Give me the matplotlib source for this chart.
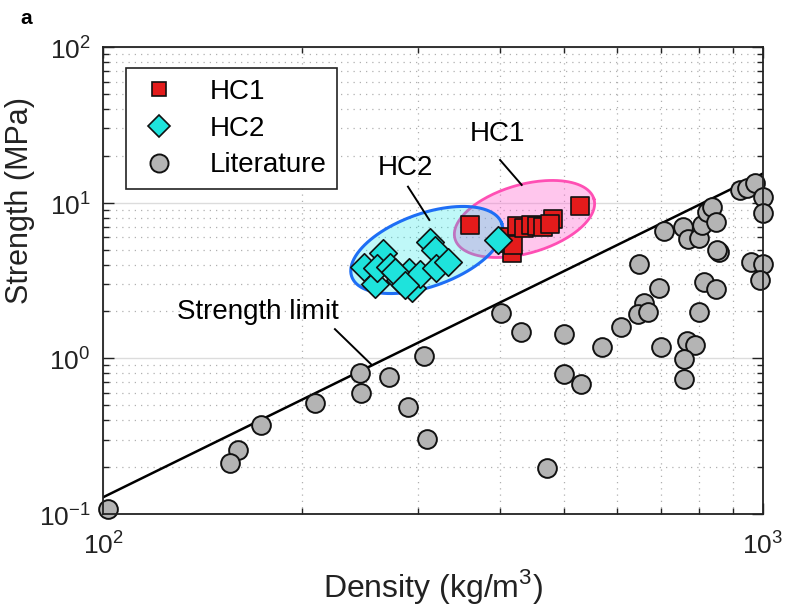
import numpy as np
import matplotlib
matplotlib.use("Agg")
import matplotlib.pyplot as plt
from matplotlib.lines import Line2D
from matplotlib.ticker import NullFormatter

plt.rcParams['font.family'] = ['Liberation Sans', 'DejaVu Sans']
plt.rcParams['mathtext.fontset'] = 'custom'
plt.rcParams['mathtext.rm'] = 'Liberation Sans'

# ---------------- data ----------------
hc1_density = [359.7, 406.6, 411.5, 416.1, 418.1, 424.5, 434.5, 444.5, 454.8, 464.2, 480.2, 475.6, 528.1]
hc1_strength = [7.19, 5.51, 6.02, 4.75, 5.35, 7.03, 6.88, 7.19, 7.08, 6.98, 7.80, 7.30, 9.52]

hc2_density = [248.6, 258.4, 265.7, 260.2, 272.3, 281.8, 290.8, 293.4, 302.2, 312.4, 318.4, 319.6, 333.2, 396.1, 277.0, 286.9]
hc2_strength = [3.84, 3.01, 4.73, 3.81, 3.88, 3.19, 3.56, 2.82, 3.48, 5.59, 4.97, 3.79, 4.13, 5.72, 3.59, 2.96]

lit_density = [101.9, 160.0, 155.9, 173.7, 209.8, 245.2, 245.8, 271.3, 306.8, 290.1,
               309.4, 400.6, 429.9, 499.4, 569.6, 609.3, 499.4, 529.4, 470.1, 649.6,
               696.4, 660.2, 647.3, 670.3, 699.8, 767.9, 788.9, 759.9, 759.1, 799.0,
               814.0, 848.8, 858.6, 852.0, 708.7, 757.2, 770.6, 799.9, 807.4, 823.3,
               836.1, 847.8, 922.9, 945.7, 972.5, 1000.0, 999.0, 957.9, 999.0, 989.6]
lit_strength = [0.108, 0.258, 0.214, 0.372, 0.519, 0.809, 0.602, 0.756, 1.04, 0.485,
                0.302, 1.966, 1.484, 1.435, 1.19, 1.59, 0.794, 0.688, 0.197, 4.02,
                2.83, 2.26, 1.93, 1.98, 1.19, 1.30, 1.22, 0.991, 0.738, 1.99,
                3.09, 2.79, 4.84, 4.97, 6.58, 7.01, 5.85, 5.96, 7.19, 8.76,
                9.43, 7.49, 12.07, 12.42, 13.32, 10.93, 8.55, 4.18, 4.02, 3.19]

limit_density = [100, 1000]
limit_strength = [0.128, 15.4]

# ---------------- figure ----------------
W, H = 786, 608
fig = plt.figure(figsize=(W / 100, H / 100), dpi=100)
ax = fig.add_axes([103 / W, 1 - 514 / H, 660 / W, 467 / H])
ax.set_xscale('log')
ax.set_yscale('log')
ax.set_xlim(100, 1000)
ax.set_ylim(0.1, 100)

# grid
ax.grid(True, which='major', color='#dcdcdc', linestyle='-', linewidth=1.0)
ax.grid(True, which='minor', color='#b0b0b0', linestyle=(0, (1, 4)), linewidth=0.9)
ax.set_axisbelow(True)


def ellipse(center, major, minor, n=200):
    t = np.linspace(0, 2 * np.pi, n)
    lx = center[0] + np.cos(t) * major[0] + np.sin(t) * minor[0]
    ly = center[1] + np.cos(t) * major[1] + np.sin(t) * minor[1]
    return 10 ** lx, 10 ** ly


ex, ey = ellipse((2.6386, 0.8953), (0.1053, 0.1278), (-0.0143, 0.212))
ax.fill(ex, ey, facecolor='#ff6ad2', alpha=0.38, edgecolor='none', zorder=2)
ax.plot(ex, ey, color='#ff4fb4', lw=2.0, zorder=2)
ex, ey = ellipse((2.4905, 0.696), (0.1136, 0.1715), (-0.0185, 0.221))
ax.fill(ex, ey, facecolor='#00e6e6', alpha=0.25, edgecolor='none', zorder=2.1)
ax.plot(ex, ey, color='#1e6ef5', lw=2.2, zorder=2.1)

# strength limit line
ax.plot(limit_density, limit_strength, color='black', lw=1.8, zorder=3)

# scatter
ax.scatter(lit_density, lit_strength, s=13.5 ** 2, marker='o', facecolor='#b4b4b4',
           edgecolor='#111111', linewidth=1.4, zorder=4, clip_on=False)
ax.scatter(hc1_density, hc1_strength, s=13.0 ** 2, marker='s', facecolor='#e31b1b',
           edgecolor='#111111', linewidth=1.2, zorder=5, clip_on=False)
ax.scatter(hc2_density, hc2_strength, s=14.0 ** 2, marker='D', facecolor='#1ee3dc',
           edgecolor='#111111', linewidth=1.2, zorder=6, clip_on=False)

# annotations
fs_ann = 20
ax.text(171.8, 1.99, 'Strength limit', fontsize=fs_ann, ha='center', va='center', zorder=7)
ax.plot([224.6, 255.4], [1.54, 0.907], color='black', lw=1.4, zorder=7)
ax.text(286.9, 16.7, 'HC2', fontsize=fs_ann, ha='center', va='center', zorder=7)
ax.plot([289.8, 312.2], [12.67, 7.74], color='black', lw=1.4, zorder=7)
ax.text(395.4, 27.6, 'HC1', fontsize=fs_ann, ha='center', va='center', zorder=7)
ax.plot([399.6, 430.9], [18.8, 13.0], color='black', lw=1.4, zorder=7)

# axes styling
for s in ax.spines.values():
    s.set_linewidth(1.3)
    s.set_color('#222222')
    s.set_zorder(8)
ax.tick_params(which='both', direction='in', top=True, right=True, labelsize=19, width=1.0, colors='#222222')
ax.tick_params(which='major', length=8, pad=9)
ax.tick_params(which='minor', length=4.5)
ax.tick_params(axis='x', which='major', pad=12)
ax.set_yticks([0.1, 1, 10, 100])
ax.set_xticks([100, 1000])
ax.set_yticklabels([r'$10^{-1}$', r'$10^{0}$', r'$10^{1}$', r'$10^{2}$'])
ax.set_xticklabels([r'$10^{2}$', r'$10^{3}$'])
ax.xaxis.set_minor_formatter(NullFormatter())
ax.yaxis.set_minor_formatter(NullFormatter())
for lbl in ax.get_xticklabels() + ax.get_yticklabels():
    lbl.set_color('#222222')

ax.set_xlabel(r'Density (kg/m$^{3}$)', fontsize=23, labelpad=6, color='#222222')
ax.set_ylabel('Strength (MPa)', fontsize=22, color='#222222')
ax.yaxis.set_label_coords(-27 / 660 - 0.062, (514 - 200) / 467)

fig.text(20 / W, 1 - 18 / H, 'a', fontsize=15, fontweight='bold', ha='left', va='center')

# legend
handles = [
    Line2D([], [], linestyle='none', marker='s', markersize=10, markerfacecolor='#e31b1b',
           markeredgecolor='#111111', markeredgewidth=1.2),
    Line2D([], [], linestyle='none', marker='D', markersize=11, markerfacecolor='#1ee3dc',
           markeredgecolor='#111111', markeredgewidth=1.2),
    Line2D([], [], linestyle='none', marker='o', markersize=13, markerfacecolor='#b4b4b4',
           markeredgecolor='#111111', markeredgewidth=1.4),
]
leg = ax.legend(handles, ['HC1', 'HC2', 'Literature'], loc='upper left',
                bbox_to_anchor=(23 / 660, (514 - 68) / 467), borderaxespad=0,
                fontsize=20, frameon=True, fancybox=False, framealpha=1,
                edgecolor='#222222', handlelength=1.6, handletextpad=1.0,
                labelspacing=0.38, borderpad=0.4)
leg.get_frame().set_linewidth(1.2)
leg.set_zorder(10)

fig.savefig('out.png', dpi=100)
